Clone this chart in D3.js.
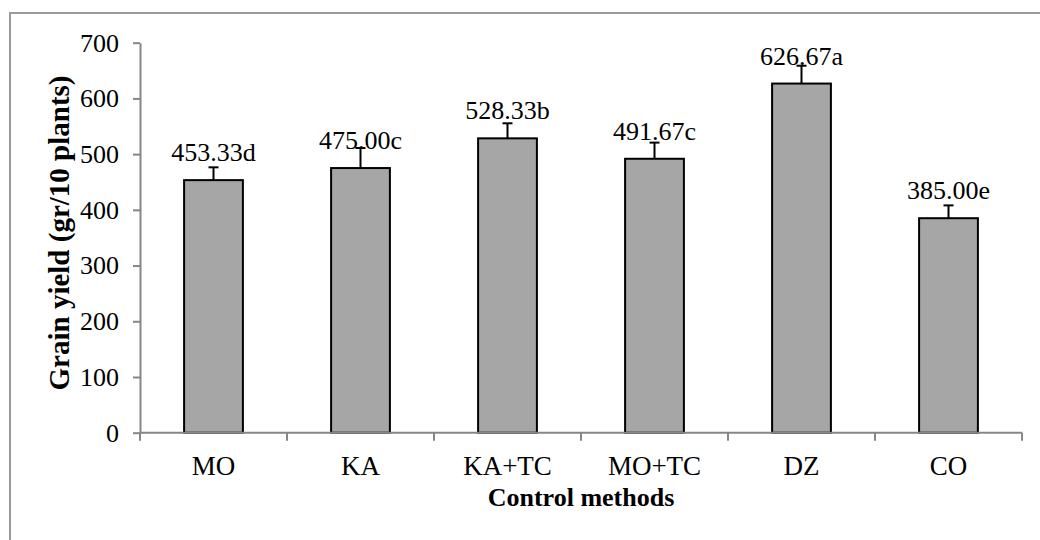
<!DOCTYPE html>
<html>
<head>
<meta charset="utf-8">
<script src="https://cdn.jsdelivr.net/npm/d3@7"></script>
<style>
  body { margin: 0; background: #fff; }
  text { font-family: "Liberation Serif", "Times New Roman", serif; fill: #000; }
</style>
</head>
<body>
<script>
// chart data
var methods = ["MO", "KA", "KA+TC", "MO+TC", "DZ", "CO"];
var yieldMeans = [453.33, 475.00, 528.33, 491.67, 626.67, 385.00];
var yieldErrors = [23, 36, 27, 29, 32, 23];
var groupLetters = ["d", "c", "b", "c", "a", "e"];
var yTicks = [0, 100, 200, 300, 400, 500, 600, 700];

var w = 1040, h = 540;
var plotLeft = 140, plotRight = 1022, plotTop = 42.7, plotBottom = 432.7;

var svg = d3.select("body").append("svg")
    .attr("width", w)
    .attr("height", h);

// outer frame (runs off the right and bottom edge)
svg.append("rect")
    .attr("x", 10).attr("y", 13)
    .attr("width", 1100).attr("height", 600)
    .attr("fill", "none")
    .attr("stroke", "#9a9a9a")
    .attr("stroke-width", 2);

var x = d3.scaleBand()
    .domain(methods)
    .range([plotLeft, plotRight])
    .paddingInner(0.6)
    .paddingOuter(0.3);

var y = d3.scaleLinear()
    .domain([0, 700])
    .range([plotBottom, plotTop]);

var rows = methods.map(function(m, i) {
    return { name: m, mean: yieldMeans[i], err: yieldErrors[i], letter: groupLetters[i] };
});

// bars
svg.selectAll(".bar")
    .data(rows)
    .enter()
    .append("rect")
    .attr("class", "bar")
    .attr("x", function(d) { return x(d.name); })
    .attr("y", function(d) { return y(d.mean); })
    .attr("width", x.bandwidth())
    .attr("height", function(d) { return y(0) - y(d.mean); })
    .attr("fill", "#a6a6a6")
    .attr("stroke", "#000")
    .attr("stroke-width", 2);

// data labels (drawn before error bars, the bars sit on top)
svg.selectAll(".lbl")
    .data(rows)
    .enter()
    .append("text")
    .attr("class", "lbl")
    .attr("x", function(d) { return x(d.name) + x.bandwidth() / 2; })
    .attr("y", function(d) { return y(d.mean) - 19; })
    .attr("text-anchor", "middle")
    .style("font-size", "26px")
    .text(function(d) { return d.mean.toFixed(2) + d.letter; });

// error bars, upper half only
var err = svg.selectAll(".err")
    .data(rows)
    .enter()
    .append("g")
    .attr("class", "err")
    .attr("stroke", "#000")
    .attr("stroke-width", 2);

err.append("line")
    .attr("x1", function(d) { return x(d.name) + x.bandwidth() / 2; })
    .attr("x2", function(d) { return x(d.name) + x.bandwidth() / 2; })
    .attr("y1", function(d) { return y(d.mean); })
    .attr("y2", function(d) { return y(d.mean + d.err); });

err.append("line")
    .attr("x1", function(d) { return x(d.name) + x.bandwidth() / 2 - 5; })
    .attr("x2", function(d) { return x(d.name) + x.bandwidth() / 2 + 5; })
    .attr("y1", function(d) { return y(d.mean + d.err); })
    .attr("y2", function(d) { return y(d.mean + d.err); });

// y axis
var yAxis = svg.append("g")
    .attr("transform", "translate(" + plotLeft + ",0)")
    .call(d3.axisLeft(y).tickValues(yTicks).tickSize(7).tickPadding(14).tickSizeOuter(0));
yAxis.selectAll("text").style("font-size", "26px").style("font-family", "Liberation Serif");
yAxis.selectAll("line, path").attr("stroke", "#868686").attr("stroke-width", 2);

// x axis: labels from the band scale, ticks on category boundaries
var xAxis = svg.append("g")
    .attr("transform", "translate(0," + plotBottom + ")")
    .call(d3.axisBottom(x).tickSize(0).tickPadding(23).tickSizeOuter(0));
xAxis.select(".domain").remove();
xAxis.selectAll("text").style("font-size", "27px").style("font-family", "Liberation Serif");

svg.append("line")
    .attr("x1", plotLeft).attr("x2", plotRight)
    .attr("y1", plotBottom).attr("y2", plotBottom)
    .attr("stroke", "#868686").attr("stroke-width", 2);

svg.selectAll(".xtick")
    .data(d3.range(methods.length + 1))
    .enter()
    .append("line")
    .attr("class", "xtick")
    .attr("x1", function(i) { return plotLeft + i * x.step(); })
    .attr("x2", function(i) { return plotLeft + i * x.step(); })
    .attr("y1", plotBottom)
    .attr("y2", plotBottom + 8)
    .attr("stroke", "#868686").attr("stroke-width", 2);

// axis titles
svg.append("text")
    .attr("x", (plotLeft + plotRight) / 2)
    .attr("y", 506)
    .attr("text-anchor", "middle")
    .style("font-size", "26px")
    .style("font-weight", "bold")
    .text("Control methods");

svg.append("text")
    .attr("transform", "translate(69,233) rotate(-90)")
    .attr("text-anchor", "middle")
    .style("font-size", "29px")
    .style("font-weight", "bold")
    .text("Grain yield (gr/10 plants)");
</script>
</body>
</html>
